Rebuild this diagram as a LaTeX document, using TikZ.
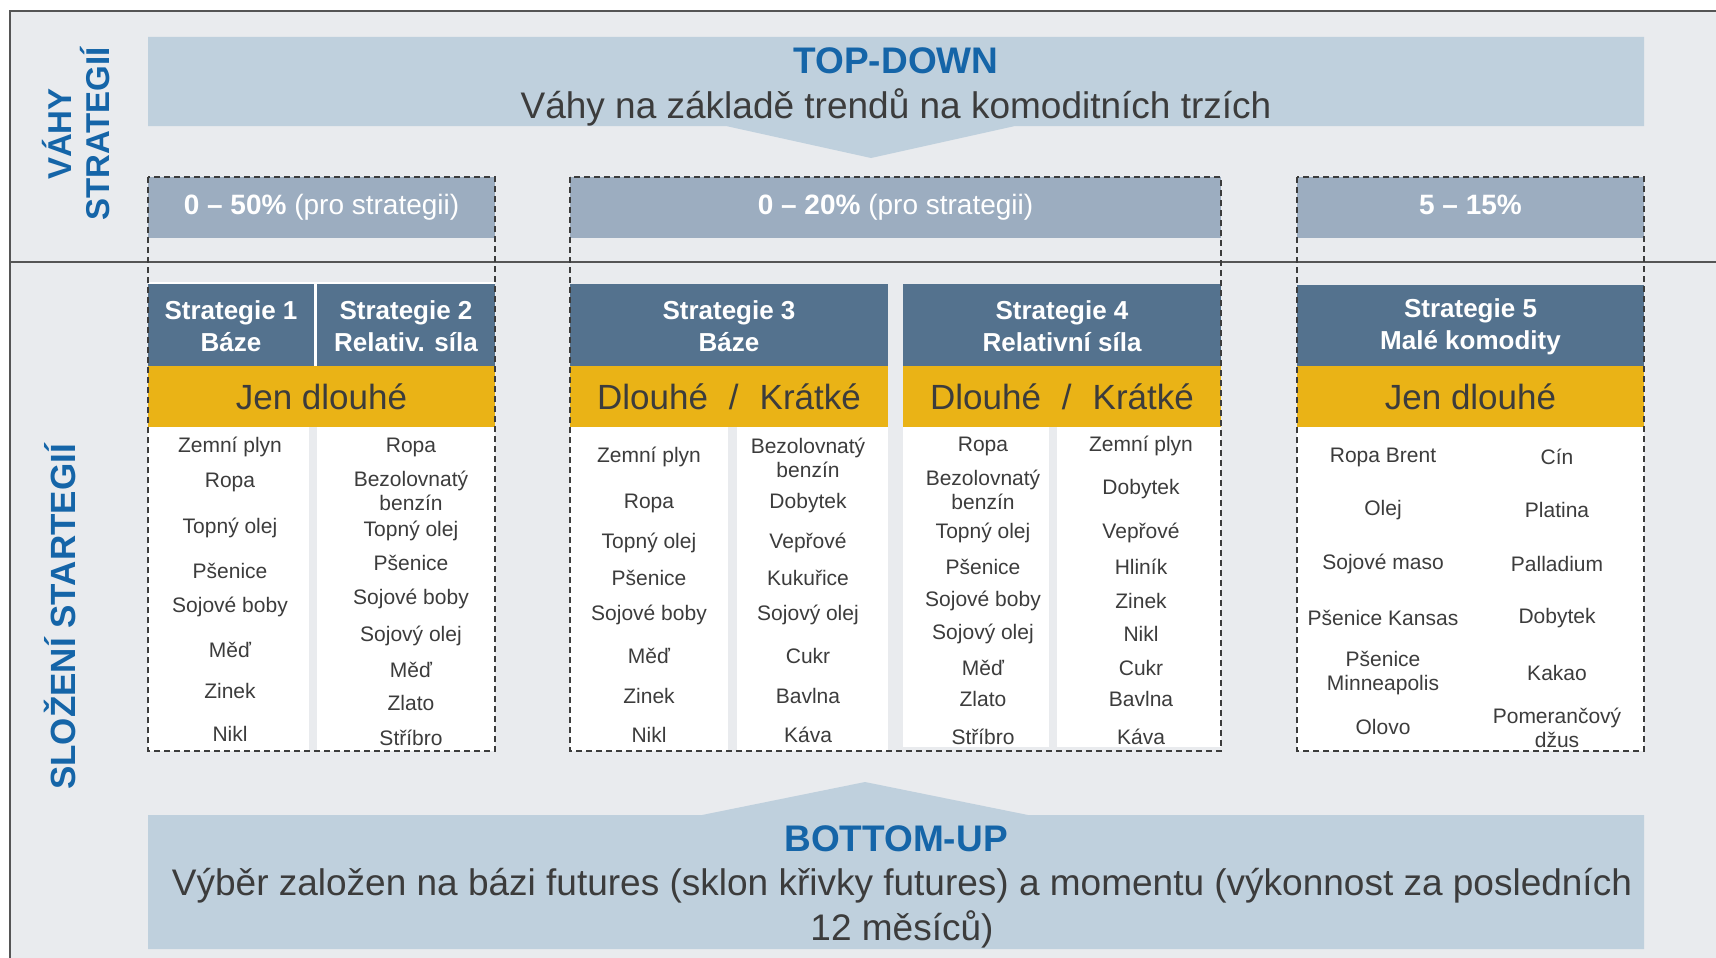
\documentclass[tikz,border=0pt]{standalone}
\usepackage{fontspec}
\setmainfont{Liberation Sans}
\definecolor{bg}{HTML}{E9EBEE}
\definecolor{lightbox}{HTML}{BFD0DD}
\definecolor{grayhdr}{HTML}{9CADC0}
\definecolor{darkhdr}{HTML}{54728E}
\definecolor{yel}{HTML}{EAB316}
\definecolor{bluetxt}{HTML}{1565A8}
\definecolor{txt}{HTML}{3C3C3C}
\definecolor{frame}{HTML}{555555}
\begin{document}
\begin{tikzpicture}[x=1pt,y=-1pt,
  box/.style={inner sep=0pt, outer sep=0pt, align=center},
  wtband/.style={box, fill=grayhdr, text=white, minimum height=61, font=\fontsize{28}{32}\selectfont},
  shdr/.style={box, fill=darkhdr, text=white, minimum height=84, font=\fontsize{26}{31.5}\selectfont\bfseries},
  yband/.style={box, fill=yel, text=txt, minimum height=61, font=\fontsize{35}{40}\selectfont},
  item/.style={inner sep=0pt, align=center, text=txt, font=\fontsize{21}{24.5}\selectfont},
  vlabel/.style={inner sep=0pt, align=center, text=bluetxt, rotate=90, font=\fontsize{33}{38}\selectfont\bfseries},
  title/.style={inner sep=0pt, text=bluetxt, font=\fontsize{37}{45}\selectfont\bfseries},
  sub/.style={inner sep=0pt, align=center, text=txt, font=\fontsize{37}{45}\selectfont},
  dashbox/.style={draw=txt, line width=1.5pt, dash pattern=on 6pt off 4pt},
  framel/.style={draw=frame, line width=2pt}
]
\useasboundingbox (0,0) rectangle (1716,958);
\fill[white] (0,0) rectangle (1716,958);
\fill[bg] (10,11) rectangle (1716,958);
\draw[framel] (1716,11) -- (10,11) -- (10,958);
\draw[framel] (10,262) -- (1716,262);

% side labels
\node[vlabel] (vahy) at (76,134) {VÁHY\\STRATEGIÍ};
\node[vlabel, font=\fontsize{35}{40}\selectfont\bfseries] (slozeni) at (60,617) {SLOŽENÍ STARTEGIÍ};

% top-down
\fill[lightbox] (148,37) -- (1644,37) -- (1644,126) -- (1015,126) -- (871,158) -- (726,126) -- (148,126) -- cycle;
\node[title] (td) at (896,61) {TOP-DOWN};
\node[sub] (tdsub) at (896,107) {Váhy na základě trendů na komoditních trzích};

% bottom-up
\fill[lightbox] (148,815) -- (702,815) -- (865,782) -- (1028,815) -- (1644,815) -- (1644,949) -- (148,949) -- cycle;
\node[title] (bu) at (896,839) {BOTTOM-UP};
\node[sub] (busub) at (902,908) {Výběr založen na bázi futures (sklon křivky futures) a momentu (výkonnost za posledních\\12 měsíců)};

% weight bands
\node[wtband, minimum width=347] (wA) at (321.5,207.5) {\textbf{0 – 50\%} (pro strategii)};
\node[wtband, minimum width=651] (wB) at (895.5,207.5) {\textbf{0 – 20\%} (pro strategii)};
\node[wtband, minimum width=347] (wC) at (1470.5,207.5) {\textbf{5 – 15\%}\vphantom{(}};

% strategy headers
\fill[white] (148,282) rectangle (495,366);
\node[shdr, minimum width=166] (s1) at (231,326) {Strategie 1\\Báze};
\node[shdr, minimum width=178] (s2) at (406,326) {Strategie 2\\Relativ. síla};
\node[shdr, minimum width=318] (s3) at (729,326) {Strategie 3\\Báze};
\node[shdr, minimum width=318] (s4) at (1062,326) {Strategie 4\\Relativní síla};
\node[shdr, minimum width=347] (s5) at (1470.5,327) {Strategie 5\\Malé komodity};

% yellow bands
\node[yband, minimum width=347] (yA) at (321.5,396.5) {Jen dlouhé};
\node[yband, minimum width=318] (yB) at (729,396.5) {Dlouhé\hspace{0.6em}/\hspace{0.6em}Krátké};
\node[yband, minimum width=318] (yC) at (1062,396.5) {Dlouhé\hspace{0.6em}/\hspace{0.6em}Krátké};
\node[yband, minimum width=347] (yD) at (1470.5,396.5) {Jen dlouhé};

% white item columns
\fill[white] (148,427) rectangle (309,751);
\fill[white] (317,427) rectangle (495,751);
\fill[white] (570,427) rectangle (728,751);
\fill[white] (737,427) rectangle (888,751);
\fill[white] (903,427) rectangle (1049,747);
\fill[white] (1057,427) rectangle (1221,747);
\fill[white] (1297,427) rectangle (1644,751);

% Strategie 1
\node[item] (a1) at (230,447) {Zemní plyn};
\node[item] (a2) at (230,482) {Ropa};
\node[item] (a3) at (230,528) {Topný olej};
\node[item] (a4) at (230,571) {Pšenice};
\node[item] (a5) at (230,607) {Sojové boby};
\node[item] (a6) at (230,650) {Měď};
\node[item] (a7) at (230,691) {Zinek};
\node[item] (a8) at (230,734) {Nikl};
% Strategie 2
\node[item] (b1) at (411,447) {Ropa};
\node[item] (b2) at (411,491) {Bezolovnatý\\benzín};
\node[item] (b3) at (411,531) {Topný olej};
\node[item] (b4) at (411,563) {Pšenice};
\node[item] (b5) at (411,599) {Sojové boby};
\node[item] (b6) at (411,636) {Sojový olej};
\node[item] (b7) at (411,670) {Měď};
\node[item] (b8) at (411,703) {Zlato};
\node[item] (b9) at (411,738) {Stříbro};
% Strategie 3
\node[item] (c1) at (649,457) {Zemní plyn};
\node[item] (c2) at (649,503) {Ropa};
\node[item] (c3) at (649,543) {Topný olej};
\node[item] (c4) at (649,578) {Pšenice};
\node[item] (c5) at (649,615) {Sojové boby};
\node[item] (c6) at (649,656) {Měď};
\node[item] (c7) at (649,696) {Zinek};
\node[item] (c8) at (649,735) {Nikl};
\node[item] (d1) at (808,458) {Bezolovnatý\\benzín};
\node[item] (d2) at (808,503) {Dobytek};
\node[item] (d3) at (808,543) {Vepřové};
\node[item] (d4) at (808,578) {Kukuřice};
\node[item] (d5) at (808,615) {Sojový olej};
\node[item] (d6) at (808,656) {Cukr};
\node[item] (d7) at (808,696) {Bavlna};
\node[item] (d8) at (808,735) {Káva};
% Strategie 4
\node[item] (e1) at (983,446) {Ropa};
\node[item] (e2) at (983,490) {Bezolovnatý\\benzín};
\node[item] (e3) at (983,533) {Topný olej};
\node[item] (e4) at (983,567) {Pšenice};
\node[item] (e5) at (983,601) {Sojové boby};
\node[item] (e6) at (983,634) {Sojový olej};
\node[item] (e7) at (983,668) {Měď};
\node[item] (e8) at (983,699) {Zlato};
\node[item] (e9) at (983,737) {Stříbro};
\node[item] (f1) at (1141,446) {Zemní plyn};
\node[item] (f2) at (1141,489) {Dobytek};
\node[item] (f3) at (1141,533) {Vepřové};
\node[item] (f4) at (1141,567) {Hliník};
\node[item] (f5) at (1141,601) {Zinek};
\node[item] (f6) at (1141,634) {Nikl};
\node[item] (f7) at (1141,668) {Cukr};
\node[item] (f8) at (1141,699) {Bavlna};
\node[item] (f9) at (1141,737) {Káva};
% Strategie 5
\node[item] (g1) at (1383,457) {Ropa Brent};
\node[item] (g2) at (1383,510) {Olej};
\node[item] (g3) at (1383,564) {Sojové maso};
\node[item] (g4) at (1383,618) {Pšenice Kansas};
\node[item] (g5) at (1383,673) {Pšenice\\Minneapolis};
\node[item] (g6) at (1383,727) {Olovo};
\node[item] (h1) at (1557,457) {Cín};
\node[item] (h2) at (1557,510) {Platina};
\node[item] (h3) at (1557,564) {Palladium};
\node[item] (h4) at (1557,618) {Dobytek};
\node[item] (h5) at (1557,673) {Kakao};
\node[item] (h6) at (1557,728) {Pomerančový\\džus};

% dashed group boxes
\draw[dashbox] (148,177) rectangle (495,751);
\draw[dashbox] (570,177) rectangle (1221,751);
\draw[dashbox] (1297,177) rectangle (1644,751);
\end{tikzpicture}
\end{document}
